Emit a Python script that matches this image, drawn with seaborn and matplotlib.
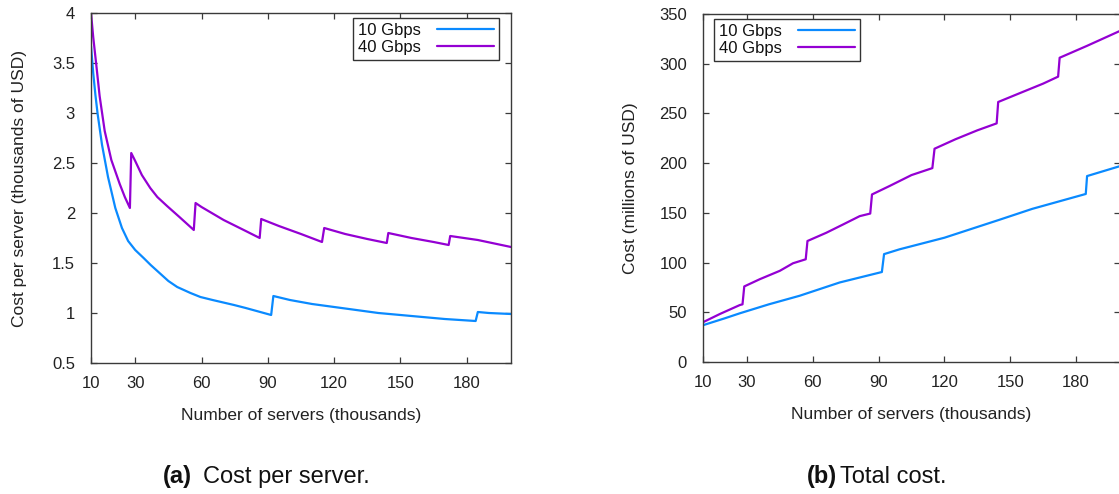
import numpy as np
import pandas as pd
import matplotlib
matplotlib.use("Agg")
import matplotlib.pyplot as plt
import seaborn as sns

# ---- data ----
series_names = ["10 Gbps", "40 Gbps"]

# (a) cost per server, thousands of USD, vs number of servers (thousands)
n_10g_a = [10, 11, 12, 13, 15, 17.7, 21, 24, 26.8, 30, 33.8, 37, 40, 45, 49, 55, 59.5, 65, 74.7,
           80, 91.5, 92.5, 100, 110, 120, 130, 140, 150, 160, 170, 184, 185, 190, 200]
cost_10g_a = [3.67, 3.40, 3.18, 2.99, 2.68, 2.36, 2.05, 1.85, 1.72, 1.63, 1.55, 1.48, 1.42,
              1.32, 1.26, 1.20, 1.16, 1.13, 1.08, 1.05, 0.98, 1.17, 1.13, 1.09, 1.06, 1.03,
              1.00, 0.98, 0.96, 0.94, 0.92, 1.01, 1.00, 0.99]

n_40g_a = [10, 11, 12.4, 13.9, 16.2, 19.2, 23, 25.3, 27.6, 28.2, 30, 33, 36.8, 40, 44.4, 50,
           56.5, 57.3, 60, 70, 80, 86.3, 87, 95, 105, 114.5, 115.5, 125, 135, 143.8, 144.5,
           155, 165, 171.8, 172.5, 185, 200]
cost_40g_a = [4.00, 3.76, 3.48, 3.17, 2.82, 2.53, 2.29, 2.16, 2.05, 2.60, 2.52, 2.38, 2.25,
              2.16, 2.07, 1.96, 1.83, 2.10, 2.06, 1.93, 1.82, 1.75, 1.94, 1.87, 1.79, 1.71,
              1.85, 1.79, 1.74, 1.70, 1.80, 1.75, 1.71, 1.68, 1.77, 1.73, 1.66]

# (b) total cost, millions of USD
n_10g_b = [10, 20, 26.8, 40, 54, 72.3, 91.5, 92.5, 99.5, 120, 145, 160, 184.4, 185, 200]
cost_10g_b = [37, 44, 49, 58, 66.6, 80, 90.5, 108.5, 113.3, 125, 143, 154, 169, 187, 197]

n_40g_b = [10, 17.7, 26.8, 28.0, 28.8, 35.9, 45, 51, 56.8, 57.6, 66.2, 73.8, 81.4, 86.2, 87,
           95, 105, 114.5, 115.5, 125, 135, 143.8, 144.5, 155, 165, 171.8, 172.5, 185, 200]
cost_40g_b = [40, 48.3, 57.3, 58, 76, 83.3, 91.7, 99.3, 103.3, 121.7, 130, 138.3, 146.7, 149.3,
              168.5, 177, 188, 195, 214.5, 224, 233, 240, 261.5, 271, 280, 287, 306, 318, 333]

x_ticks = [10, 30, 60, 90, 120, 150, 180]
y_ticks_a = [0.5, 1, 1.5, 2, 2.5, 3, 3.5, 4]
y_ticks_b = [0, 50, 100, 150, 200, 250, 300, 350]

colors = {"10 Gbps": "#0a8aff", "40 Gbps": "#9400d3"}

# ---- style ----
sns.set_theme(style="ticks")
plt.rcParams["font.family"] = ["Liberation Sans", "DejaVu Sans"]
plt.rcParams.update({
    "xtick.direction": "in", "ytick.direction": "in",
    "xtick.top": True, "ytick.right": True,
    "xtick.major.size": 4.5, "ytick.major.size": 4.5,
    "xtick.major.width": 0.9, "ytick.major.width": 0.9,
    "axes.edgecolor": "#3a3a3a", "axes.linewidth": 1.0,
    "xtick.color": "#3a3a3a", "ytick.color": "#3a3a3a",
    "xtick.labelcolor": "#222222", "ytick.labelcolor": "#222222",
    "axes.labelcolor": "#222222", "text.color": "#111111",
})

fig = plt.figure(figsize=(11.19, 4.94), dpi=100)
W, H = 1119, 494
axA = fig.add_axes([91 / W, (H - 363) / H, 420 / W, 350 / H])
axB = fig.add_axes([703 / W, (H - 362) / H, 417 / W, 348 / H])

dfA = pd.concat([
    pd.DataFrame({"n": n_10g_a, "cost": cost_10g_a, "series": series_names[0]}),
    pd.DataFrame({"n": n_40g_a, "cost": cost_40g_a, "series": series_names[1]}),
])
dfB = pd.concat([
    pd.DataFrame({"n": n_10g_b, "cost": cost_10g_b, "series": series_names[0]}),
    pd.DataFrame({"n": n_40g_b, "cost": cost_40g_b, "series": series_names[1]}),
])

fs_tick = 12
fs_label = 12.5

for ax, df, yt, ylim, ylabel, lpad in [
    (axA, dfA, y_ticks_a, (0.5, 4), "Cost per server (thousands of USD)", 18),
    (axB, dfB, y_ticks_b, (0, 350), "Cost (millions of USD)", 15),
]:
    sns.lineplot(data=df, x="n", y="cost", hue="series", palette=colors,
                 hue_order=series_names, linewidth=1.6, ax=ax, estimator=None, sort=False)
    ax.set_xlim(10, 200)
    ax.set_ylim(*ylim)
    ax.set_xticks(x_ticks)
    ax.set_xticklabels([str(t) for t in x_ticks], fontsize=fs_tick)
    ax.set_yticks(yt)
    ax.set_yticklabels([f"{t:g}" for t in yt], fontsize=fs_tick)
    ax.tick_params(axis="x", pad=9.5)
    ax.tick_params(axis="y", pad=11.5)
    ax.set_xlabel("Number of servers (thousands)", fontsize=fs_label, labelpad=12)
    ax.set_ylabel(ylabel, fontsize=fs_label, labelpad=lpad)
    for s in ax.spines.values():
        s.set_visible(True)

leg_kw = dict(borderaxespad=0, markerfirst=False, fancybox=False, framealpha=1,
              edgecolor="#333333", fontsize=12, handlelength=3.4, handletextpad=1.0,
              labelspacing=0.1, borderpad=0.3)
hA, lA = axA.get_legend_handles_labels()
axA.legend(hA, lA, loc="upper right", bbox_to_anchor=(0.971, 0.986),
           **leg_kw).get_frame().set_linewidth(1.0)
hB, lB = axB.get_legend_handles_labels()
axB.legend(hB, lB, loc="upper left", bbox_to_anchor=(0.026, 0.986),
           **leg_kw).get_frame().set_linewidth(1.0)

# captions
yb = 1 - 483 / H
fig.text(163 / W, yb, "(a)", fontsize=17, va="baseline", ha="left", fontweight="bold")
fig.text(203 / W, yb, "Cost per server.", fontsize=17, va="baseline", ha="left")
fig.text(807 / W, yb, "(b)", fontsize=17, va="baseline", ha="left", fontweight="bold")
fig.text(840 / W, yb, "Total cost.", fontsize=17, va="baseline", ha="left")

fig.savefig("out.png", dpi=100)
